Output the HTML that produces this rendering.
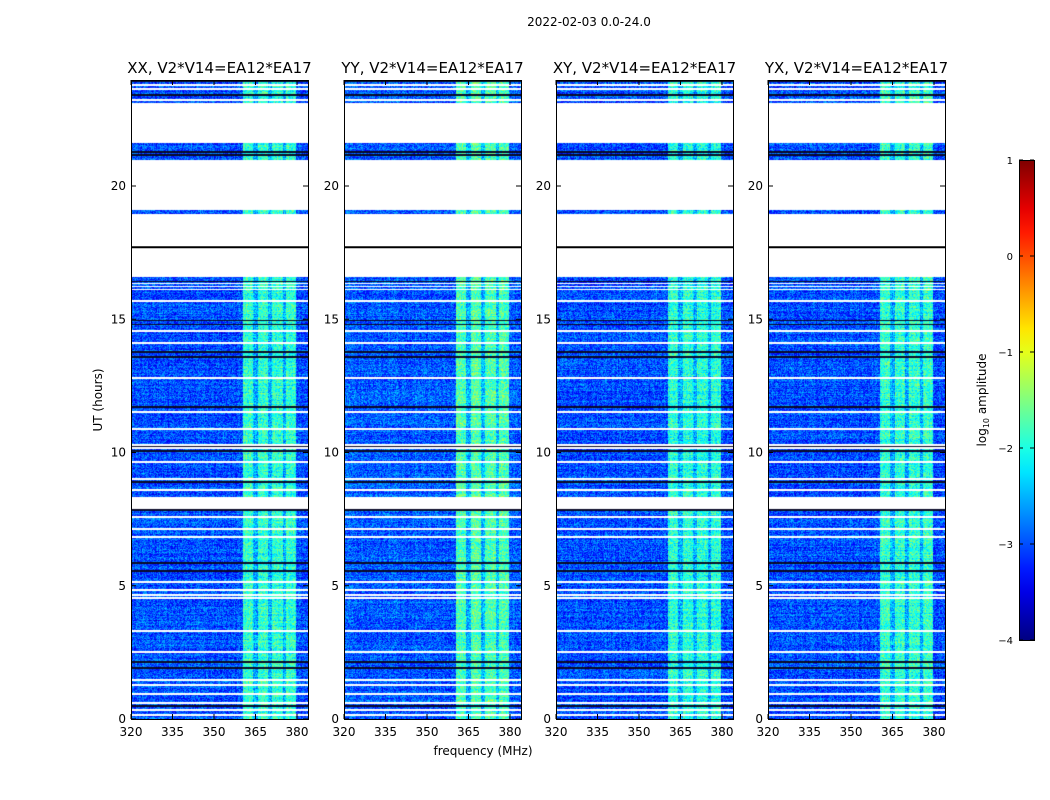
<!DOCTYPE html>
<html><head><meta charset="utf-8"><style>
body{margin:0;background:#fff;width:1050px;height:800px;overflow:hidden;position:relative;font-family:"DejaVu Sans","Liberation Sans",sans-serif}
canvas{position:absolute;z-index:1}
svg{position:absolute;left:0;top:0;z-index:2}
</style></head><body>
<svg id="svg" width="1050" height="800"></svg>
<script>
// ---- data ----
const panelTitles = ["XX, V2*V14=EA12*EA17","YY, V2*V14=EA12*EA17","XY, V2*V14=EA12*EA17","YX, V2*V14=EA12*EA17"];
const panelLeft = [131,344,556,768];
const hourTicks = [0,5,10,15,20];
const freqTicks = [320,335,350,365,380];
const cbarTicks = [1,0,-1,-2,-3,-4];
// flagged (white) time ranges [start,end] hours
const flagRanges = [[21.61,23.11],[19.10,20.98],[16.59,18.95],[7.88,8.33]];
// thin flagged lines (hours)
const whiteLines = [23.79,23.64,23.23,16.34,16.23,16.11,15.68,14.56,14.11,12.80,11.52,10.88,10.28,10.17,9.64,9.0,8.59,7.58,7.13,6.83,5.14,4.84,4.65,4.54,3.30,2.51,1.46,1.28,0.94,0.60,0.34,0.15];
// dark rows (hours)
const blackLines = [23.94,23.42,21.28,21.16,16.42,14.95,14.8,13.77,13.58,11.71,10.24,10.06,8.89,7.84,5.85,5.55,2.14,1.91,0.49];
// bright RFI stripes [fstart,fend] MHz
const stripes = [[360.5,364.1],[365.9,369.5],[371,374.9],[376,379.6]];
const gapLevel = -2.5; // between stripes
const baseLevel = [-3.0,-2.95,-3.0,-3.0];
const stripeLevel = [-1.9,-1.75,-1.95,-1.9];
// ---- scales ----
const TOP=80,BOT=719,W=177;
const yH = h => BOT - h*(BOT-186)/20;
const xF = (i,f) => panelLeft[i] + (f-320)*41.5/15;
const cbY = v => 640 - (v+4)*96;
function jet(v){let t=Math.max(0,Math.min(1,(v+4)/5));
 const c=x=>Math.max(0,Math.min(1,x));
 return [c(1.5-Math.abs(4*t-3)),c(1.5-Math.abs(4*t-2)),c(1.5-Math.abs(4*t-1))].map(x=>Math.round(x*255));}
function hash(a,b,c){let h=(a*374761393+b*668265263+c*2147483647)|0;h=(h^(h>>>13))*1274126177|0;return ((h^(h>>>16))>>>0)/4294967296;}
const NS="http://www.w3.org/2000/svg",svg=document.getElementById('svg');
function el(t,a,txt){const e=document.createElementNS(NS,t);for(const k in a)e.setAttribute(k,a[k]);if(txt!==undefined)e.textContent=txt;svg.appendChild(e);return e;}
// ---- panels ----
panelTitles.forEach((title,i)=>{
 const cv=document.createElement('canvas');cv.width=W;cv.height=BOT-TOP;
 cv.style.left=panelLeft[i]+'px';cv.style.top=TOP+'px';
 
 
 document.body.appendChild(cv);
 const ctx=cv.getContext('2d'),img=ctx.createImageData(W,BOT-TOP);
 for(let r=0;r<BOT-TOP;r++){
  const h=(BOT-(TOP+r+0.5))*20/(BOT-186);
  let white=flagRanges.some(g=>h>=g[0]&&h<=g[1])||whiteLines.some(w=>Math.abs(h-w)<0.03);
  let black=!white&&blackLines.some(w=>Math.abs(h-w)<0.03);
  const rowv=(hash(r,7,i)-0.5)*0.3;
  for(let c=0;c<W;c++){
   const f=320+(c+0.5)*15/41.5,k=(r*W+c)*4;let col;
   if(white)col=[255,255,255];else if(black)col=[10,10,40];
   else{let v=baseLevel[i];
    if(f>=stripes[0][0]&&f<=stripes[3][1]){v=gapLevel;if(stripes.some(s=>f>=s[0]&&f<=s[1]))v=stripeLevel[i];}
    v+=rowv+(hash(c,r,i)-0.5)*0.9+(hash(c,3,i)-0.5)*0.2;col=jet(v);}
   img.data[k]=col[0];img.data[k+1]=col[1];img.data[k+2]=col[2];img.data[k+3]=255;}
 }
 ctx.putImageData(img,0,0);
 const x0=panelLeft[i];
 el('rect',{x:x0+0.5,y:TOP+0.5,width:W,height:BOT-TOP,fill:'none',stroke:'#000','stroke-width':1,});
 el('text',{x:x0+W/2,y:73,'text-anchor':'middle','font-size':15,},title);
 el('line',{x1:x0,y1:yH(17.7),x2:x0+W,y2:yH(17.7),stroke:'#000','stroke-width':2,});
 hourTicks.forEach(t=>{const y=yH(t);
  el('line',{x1:x0,y1:y,x2:x0+5,y2:y,stroke:'#000',});
  el('line',{x1:x0+W-5,y1:y,x2:x0+W,y2:y,stroke:'#000',});
  el('text',{x:x0-5,y:y+4,'text-anchor':'end','font-size':12,},t);});
 freqTicks.forEach(f=>{const x=xF(i,f);
  el('line',{x1:x,y1:BOT,x2:x,y2:BOT-5,stroke:'#000',});
  el('line',{x1:x,y1:TOP,x2:x,y2:TOP+5,stroke:'#000',});
  el('text',{x:x,y:736,'text-anchor':'middle','font-size':12,},f);});
});
el('text',{x:589,y:26,'text-anchor':'middle','font-size':12,},'2022-02-03 0.0-24.0');
el('text',{x:483,y:755,'text-anchor':'middle','font-size':12,},'frequency (MHz)');
el('text',{x:102,y:400,'text-anchor':'middle','font-size':12,transform:'rotate(-90 102 400)',},'UT (hours)');
// ---- colorbar ----
const defs=el('defs',{});const lg=document.createElementNS(NS,'linearGradient');
lg.setAttribute('id','jg');lg.setAttribute('x1','0');lg.setAttribute('y1','1');lg.setAttribute('x2','0');lg.setAttribute('y2','0');defs.appendChild(lg);
for(let s=0;s<=20;s++){const v=-4+s*5/20,c=jet(v);const st=document.createElementNS(NS,'stop');st.setAttribute('offset',s/20);st.setAttribute('stop-color','rgb('+c.join(',')+')');lg.appendChild(st);}
el('rect',{x:1019.5,y:160.5,width:15,height:480,fill:'url(#jg)',stroke:'#000',});
cbarTicks.forEach(v=>{const y=cbY(v);
 el('line',{x1:1019,y1:y,x2:1023,y2:y,stroke:'#000',});
 el('line',{x1:1030,y1:y,x2:1034,y2:y,stroke:'#000',});
 el('text',{x:1013,y:y+4,'text-anchor':'end','font-size':10,},v<0?'\u2212'+(-v):v);});
const cl=el('text',{x:986,y:400,'text-anchor':'middle','font-size':12,transform:'rotate(-90 986 400)',},'log');
const ts=document.createElementNS(NS,'tspan');ts.setAttribute('font-size','8');ts.setAttribute('dy','3');ts.textContent='10';cl.appendChild(ts);
const ts2=document.createElementNS(NS,'tspan');ts2.setAttribute('dy','-3');ts2.textContent=' amplitude';cl.appendChild(ts2);
</script>
</body></html>
